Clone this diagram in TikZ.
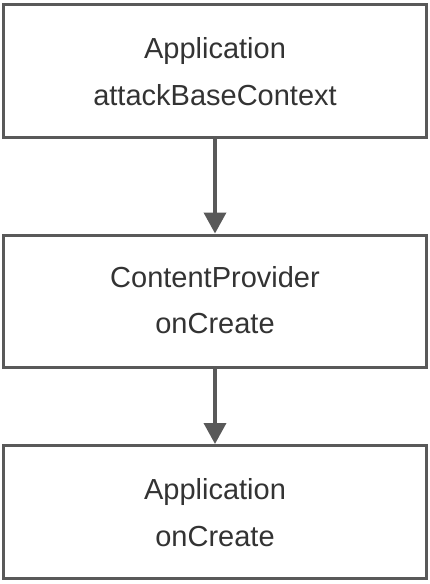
\documentclass[tikz,border=0pt]{standalone}
\usepackage{fontspec}
\setmainfont{Liberation Sans}
\usetikzlibrary{arrows.meta}
\definecolor{edge}{HTML}{595959}
\definecolor{txt}{HTML}{333333}
\begin{document}
\begin{tikzpicture}[x=1pt,y=-1pt,
  boxstyle/.style={draw=edge,line width=3pt,fill=none},
  lbl/.style={anchor=base,text=txt,inner sep=0pt,font=\fontsize{29}{34}\selectfont},
  conn/.style={draw=edge,line width=3.6pt,-{Triangle[width=22pt,length=21pt]}}]
\useasboundingbox (0,0) rectangle (430,584);
\fill[white] (0,0) rectangle (430,584);
\node[boxstyle,minimum width=423pt,minimum height=133pt,inner sep=0pt] (b1) at (215,71) {};
\node[boxstyle,minimum width=423pt,minimum height=132.5pt,inner sep=0pt] (b2) at (215,301.25) {};
\node[boxstyle,minimum width=423pt,minimum height=133pt,inner sep=0pt] (b3) at (215,512) {};
\node[lbl] (t1a) at (215,58) {Application};
\node[lbl] (t1b) at (215,105) {attackBaseContext};
\node[lbl] (t2a) at (215,287) {ContentProvider};
\node[lbl] (t2b) at (215,333) {onCreate};
\node[lbl] (t3a) at (215,499) {Application};
\node[lbl] (t3b) at (215,546) {onCreate};
\draw[conn] (b1.south) -- (b2.north);
\draw[conn] (b2.south) -- (b3.north);
\end{tikzpicture}
\end{document}
